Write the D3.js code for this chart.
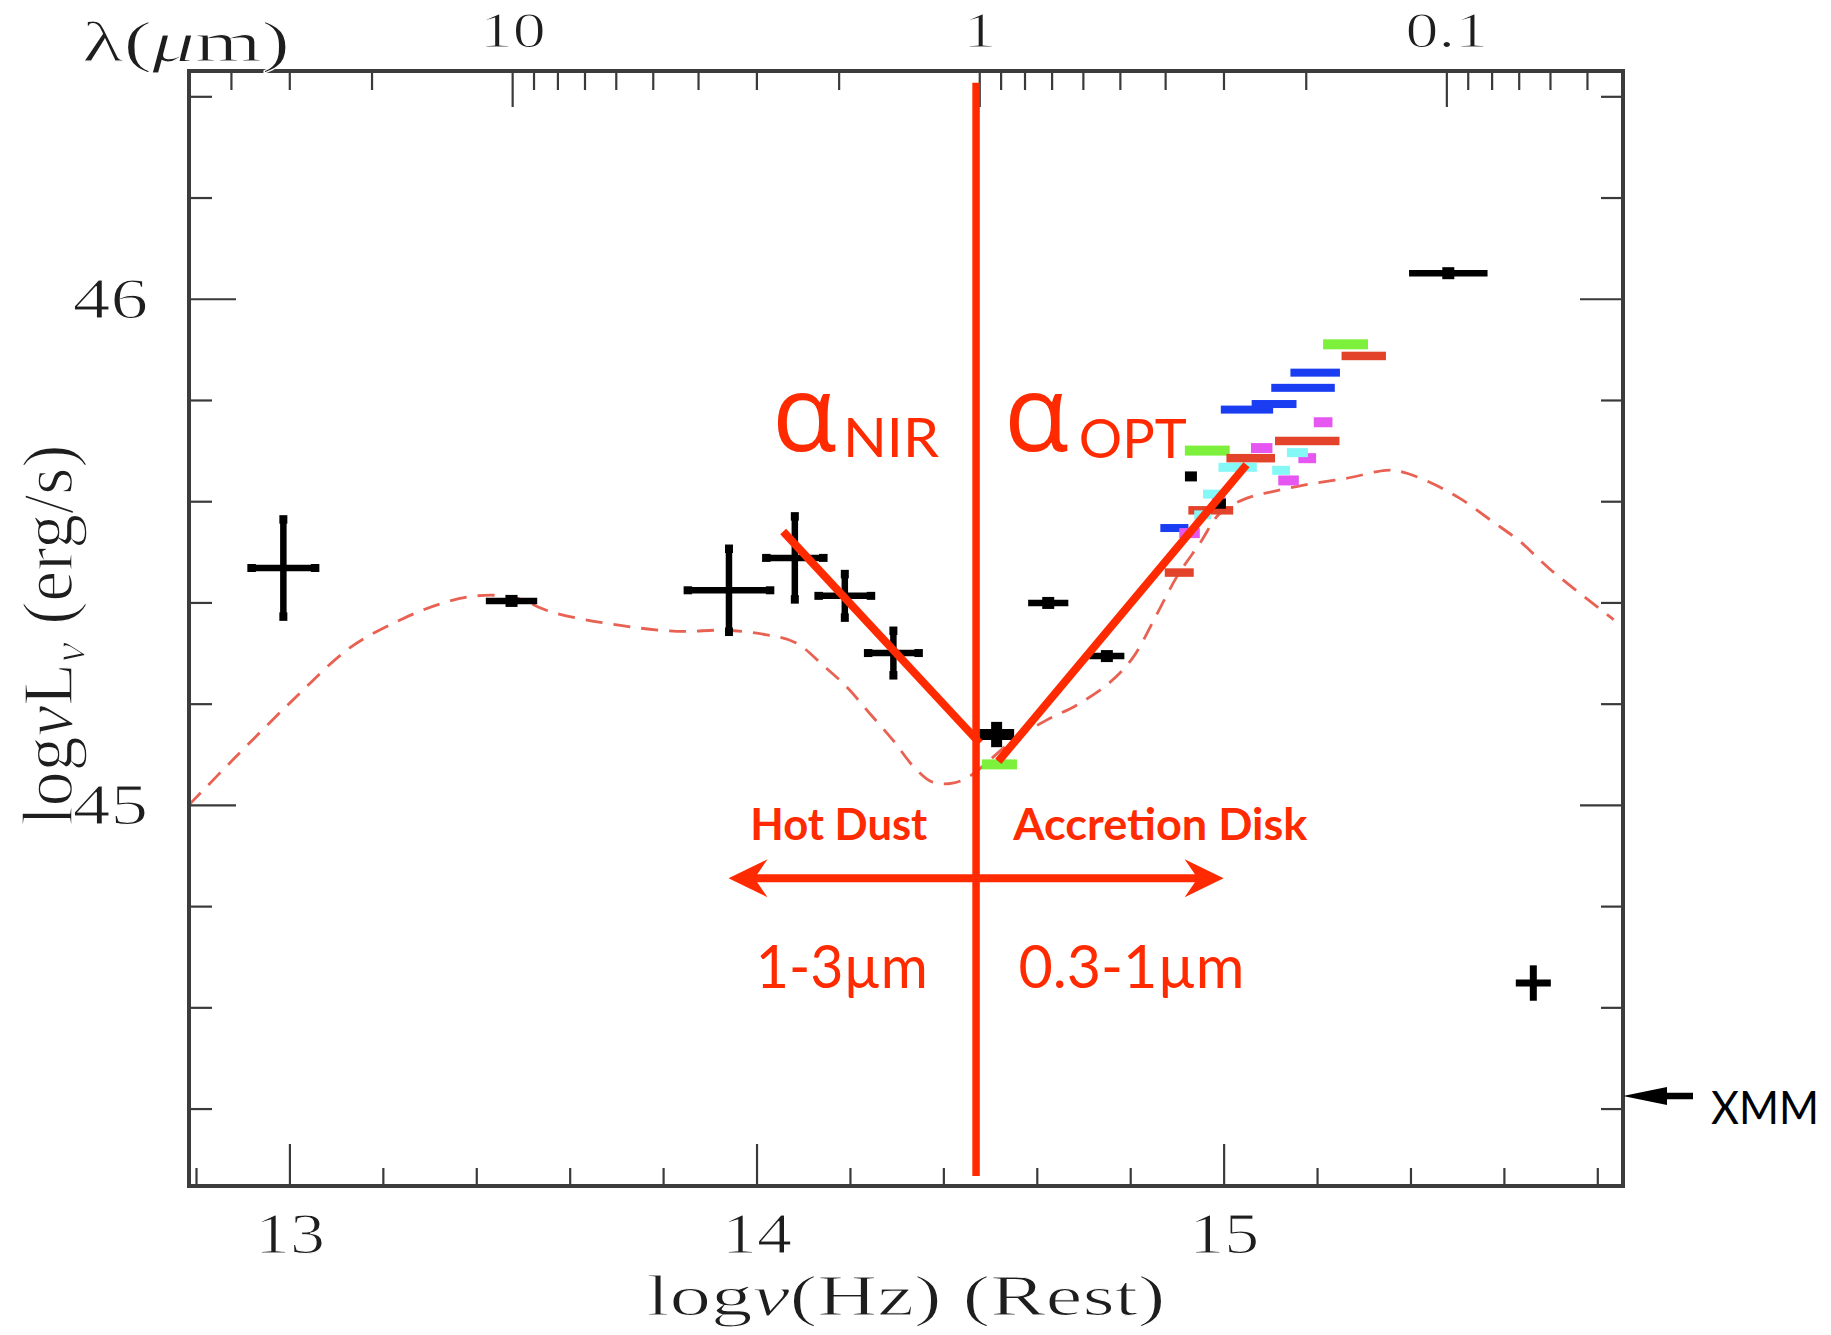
<!DOCTYPE html>
<html>
<head>
<meta charset="utf-8">
<script src="https://cdn.jsdelivr.net/npm/d3@7"></script>
<style>
  html, body { margin: 0; padding: 0; background: #ffffff; }
  svg { display: block; }
</style>
</head>
<body>
<svg id="sed" width="1831" height="1335"></svg>
<script>
// ---------------------------------------------------------------
// Rest-frame spectral energy distribution of a quasar
// x: log nu (Hz), y: log nu L_nu (erg/s)
// ---------------------------------------------------------------

const nuDomain  = [12.785, 15.855];
const lumDomain = [44.247, 46.45];

// axis ticks
const nuTicksMajor  = [13, 14, 15];
const nuTicksMinor  = [12.8, 13.2, 13.4, 13.6, 13.8, 14.2, 14.4, 14.6, 14.8, 15.2, 15.4, 15.6, 15.8];
const lumTicksMajor = [45, 46];
const lumTicksMinor = [44.4, 44.6, 44.8, 45.2, 45.4, 45.6, 45.8, 46.2, 46.4];
const lambdaTicksMajor = [10, 1, 0.1];
const lambdaLabels     = ["10", "1", "0.1"];
const lambdaTicksMinor = [40, 30, 20, 9, 8, 7, 6, 5, 4, 3, 2,
                          0.9, 0.8, 0.7, 0.6, 0.5, 0.4, 0.3, 0.2,
                          0.09, 0.08, 0.07, 0.06, 0.05];

// mean quasar template (dashed): [log nu, log nuLnu]
const templateSED = [
  [12.785, 45.000], [12.880, 45.090], [13.005, 45.205], [13.129, 45.310],
  [13.236, 45.365], [13.322, 45.397], [13.400, 45.413], [13.480, 45.410],
  [13.565, 45.380], [13.705, 45.355], [13.830, 45.343], [13.935, 45.345],
  [14.022, 45.336], [14.085, 45.320], [14.142, 45.276], [14.192, 45.234],
  [14.242, 45.181], [14.292, 45.128], [14.335, 45.077], [14.377, 45.045],
  [14.420, 45.043], [14.457, 45.057], [14.550, 45.128], [14.620, 45.167],
  [14.685, 45.197], [14.755, 45.241], [14.805, 45.290], [14.855, 45.373],
  [14.900, 45.451], [14.950, 45.518], [14.992, 45.576], [15.050, 45.606],
  [15.105, 45.619], [15.177, 45.633], [15.262, 45.645], [15.347, 45.661],
  [15.377, 45.659], [15.435, 45.640], [15.505, 45.606], [15.577, 45.559],
  [15.635, 45.520], [15.697, 45.467], [15.835, 45.366]
];

// photometry with errors in both axes: [log nu, dlog nu, log nuLnu, dlog nuLnu]
const irPhotometry = [
  [12.987, 0.068, 45.468, 0.096],
  [13.941, 0.088, 45.424, 0.082],
  [14.082, 0.061, 45.488, 0.082],
  [14.189, 0.056, 45.413, 0.043],
  [14.293, 0.054, 45.300, 0.044]
];
const nearIRPoint = [[14.514, 0.0375, 45.139, 0.025]];
const xrayPoint   = [[15.663, 0.0375, 44.648, 0.035]];

// photometry with frequency width only: [log nu, dlog nu, log nuLnu]
const bandPoints = [
  [13.4755, 0.055, 45.403],
  [14.6245, 0.043, 45.399],
  [14.750, 0.0375, 45.294],
  [15.481, 0.084, 46.0505]
];
const blackDots = [[14.930, 45.649], [14.992, 45.595]];

// multi-epoch optical/UV photometry: [log nu, dlog nu, log nuLnu]
const greenEpoch = [
  [15.261, 0.048, 45.910], [14.965, 0.048, 45.700], [14.520, 0.0375, 45.080]
];
const redEpoch = [
  [15.300, 0.0475, 45.887], [15.179, 0.069, 45.719], [15.058, 0.052, 45.685],
  [14.9725, 0.048, 45.582], [14.905, 0.031, 45.459]
];
const blueEpoch = [
  [15.196, 0.053, 45.854], [15.170, 0.068, 45.824], [15.108, 0.048, 45.792],
  [15.050, 0.056, 45.781], [14.8945, 0.030, 45.547]
];
const magentaEpoch = [
  [15.213, 0.020, 45.756], [15.0815, 0.023, 45.705], [15.179, 0.019, 45.685],
  [15.139, 0.022, 45.641], [14.990, 0.015, 45.598], [14.927, 0.022, 45.537]
];
const cyanEpoch = [
  [15.158, 0.0225, 45.696], [15.030, 0.041, 45.667], [15.123, 0.019, 45.661],
  [14.976, 0.020, 45.614], [14.955, 0.018, 45.573]
];

// spectral-slope fits and region markers
const alphaNIR = [[14.057, 45.540], [14.478, 45.122]];
const alphaOPT = [[14.5175, 45.086], [15.049, 45.672]];
const dividerNu = 14.47;
const dividerSpan = [44.267, 46.427];
const rangeArrow = { from: 13.94, to: 15.0, lum: 44.855 };
const xmmLimit = 44.425;

// ---------------------------------------------------------------
const C_MICRON = 2.99792458e14;              // speed of light in micron/s
const lamToNu = l => Math.log10(C_MICRON / l);

const RED = "#ff2a00";
const INK = "#1e1e1e";
const SERIF = "'Liberation Serif', 'DejaVu Serif', serif";
const SANS = "Lato, 'Open Sans', 'Liberation Sans', sans-serif";

const svg = d3.select("#sed");
const plotLeft = 189, plotRight = 1623, plotTop = 71, plotBottom = 1186;
const x = d3.scaleLinear().domain(nuDomain).range([plotLeft, plotRight]);
const y = d3.scaleLinear().domain(lumDomain).range([plotBottom, plotTop]);

// stretch serif labels horizontally
function widen(sel, k) {
  sel.each(function () {
    const w = this.getComputedTextLength();
    d3.select(this).attr("textLength", w * k).attr("lengthAdjust", "spacingAndGlyphs");
  });
}
// thin serif strokes slightly with a white outline painted over the fill
function thin(sel) {
  sel.attr("stroke", "#fff").attr("stroke-width", 1.1).attr("paint-order", "fill");
}

// ---------- template curve ----------
svg.append("path")
  .datum(templateSED)
  .attr("d", d3.line().x(d => x(d[0])).y(d => y(d[1])).curve(d3.curveCatmullRom.alpha(0.5)))
  .attr("fill", "none")
  .attr("stroke", "#e6503f")
  .attr("stroke-width", 2.8)
  .attr("stroke-dasharray", "17 11")
  .attr("opacity", 0.9);

// ---------- axes ----------
function drawAxis(axis, transform) {
  const g = svg.append("g").attr("transform", transform).call(axis);
  g.select(".domain").remove();
  g.selectAll(".tick line").attr("stroke", "#3a3a3a").attr("stroke-width", 2.2);
  return g;
}

const gBottom = drawAxis(d3.axisBottom(x).tickValues(nuTicksMajor).tickSize(-42).tickPadding(27)
  .tickFormat(d3.format("d")), `translate(0,${plotBottom})`);
drawAxis(d3.axisBottom(x).tickValues(nuTicksMinor).tickSize(-18).tickFormat(""), `translate(0,${plotBottom})`);

const gTop = drawAxis(d3.axisTop(x).tickValues(lambdaTicksMajor.map(lamToNu)).tickSize(-36).tickPadding(24)
  .tickFormat((d, i) => lambdaLabels[i]), `translate(0,${plotTop})`);
drawAxis(d3.axisTop(x).tickValues(lambdaTicksMinor.map(lamToNu).filter(v => v > nuDomain[0] && v < nuDomain[1]))
  .tickSize(-19).tickFormat(""), `translate(0,${plotTop})`);

const gLeft = drawAxis(d3.axisLeft(y).tickValues(lumTicksMajor).tickSize(-47).tickPadding(41)
  .tickFormat(d3.format("d")), `translate(${plotLeft},0)`);
drawAxis(d3.axisLeft(y).tickValues(lumTicksMinor).tickSize(-23).tickFormat(""), `translate(${plotLeft},0)`);

drawAxis(d3.axisRight(y).tickValues(lumTicksMajor).tickSize(-43).tickFormat(""), `translate(${plotRight},0)`);
drawAxis(d3.axisRight(y).tickValues(lumTicksMinor).tickSize(-22).tickFormat(""), `translate(${plotRight},0)`);

[gBottom, gTop, gLeft].forEach(g => g.attr("font-family", null).attr("font-size", null));
gBottom.selectAll("text").attr("font-family", SERIF).attr("font-size", 56).attr("fill", INK).call(widen, 1.25).call(thin);
gTop.selectAll("text").attr("font-family", SERIF).attr("font-size", 50).attr("fill", INK).call(widen, 1.32).call(thin);
gLeft.selectAll("text").attr("font-family", SERIF).attr("font-size", 57).attr("fill", INK).call(widen, 1.32).call(thin);

// frame
svg.append("rect")
  .attr("x", plotLeft).attr("y", plotTop)
  .attr("width", plotRight - plotLeft).attr("height", plotBottom - plotTop)
  .attr("fill", "none").attr("stroke", "#3c3c3c").attr("stroke-width", 4);

// axis titles
const lamTitle = svg.append("text")
  .attr("x", 82).attr("y", 61)
  .attr("font-family", SERIF).attr("font-size", 58).attr("fill", INK);
lamTitle.append("tspan").text("λ(");
lamTitle.append("tspan").attr("font-style", "italic").text("μ");
lamTitle.append("tspan").text("m)");
lamTitle.attr("textLength", 208).attr("lengthAdjust", "spacingAndGlyphs").call(thin);

const nuTitle = svg.append("text")
  .attr("x", 906).attr("y", 1315).attr("text-anchor", "middle")
  .attr("font-family", SERIF).attr("font-size", 58).attr("fill", INK);
nuTitle.append("tspan").text("log");
nuTitle.append("tspan").attr("font-style", "italic").text("ν");
nuTitle.append("tspan").text("(Hz)  (Rest)");
nuTitle.attr("textLength", 519).attr("lengthAdjust", "spacingAndGlyphs").call(thin);

const lumTitle = svg.append("text")
  .attr("transform", "translate(72,635) rotate(-90) scale(1,1.3)")
  .attr("text-anchor", "middle")
  .attr("font-family", SERIF).attr("font-size", 56).attr("fill", INK);
lumTitle.append("tspan").text("log");
lumTitle.append("tspan").attr("font-style", "italic").text("ν");
lumTitle.append("tspan").text("L");
lumTitle.append("tspan").attr("font-style", "italic").attr("font-size", 38).attr("dy", 10).text("ν");
lumTitle.append("tspan").attr("dy", -10).text(" (erg/s)");
lumTitle.attr("textLength", 381).attr("lengthAdjust", "spacingAndGlyphs").call(thin);

// ---------- data marks ----------
const marks = svg.append("g");

function crosses(data, width, cap) {
  const g = marks.append("g").attr("stroke", "#000").attr("stroke-linecap", "butt");
  const c = g.selectAll("g").data(data).join("g");
  c.append("line")
    .attr("x1", d => x(d[0] - d[1])).attr("x2", d => x(d[0] + d[1]))
    .attr("y1", d => y(d[2])).attr("y2", d => y(d[2]))
    .attr("stroke-width", width);
  c.append("line")
    .attr("x1", d => x(d[0])).attr("x2", d => x(d[0]))
    .attr("y1", d => y(d[2] - d[3])).attr("y2", d => y(d[2] + d[3]))
    .attr("stroke-width", width);
  if (cap > 0) {
    c.selectAll("line.cap")
      .data(d => [
        { cx: x(d[0] - d[1]), cy: y(d[2]), v: true },
        { cx: x(d[0] + d[1]), cy: y(d[2]), v: true },
        { cx: x(d[0]), cy: y(d[2] - d[3]), v: false },
        { cx: x(d[0]), cy: y(d[2] + d[3]), v: false }
      ]).join("line").attr("class", "cap")
      .attr("x1", e => e.v ? e.cx : e.cx - cap / 2).attr("x2", e => e.v ? e.cx : e.cx + cap / 2)
      .attr("y1", e => e.v ? e.cy - cap / 2 : e.cy).attr("y2", e => e.v ? e.cy + cap / 2 : e.cy)
      .attr("stroke-width", width + 2);
  }
}
crosses(irPhotometry, 6.5, 8);
crosses(nearIRPoint, 11, 0);
crosses(xrayPoint, 7, 0);

// horizontal bars with centre dots
const bp = marks.append("g").selectAll("g").data(bandPoints).join("g");
bp.append("line")
  .attr("x1", d => x(d[0] - d[1])).attr("x2", d => x(d[0] + d[1]))
  .attr("y1", d => y(d[2])).attr("y2", d => y(d[2]))
  .attr("stroke", "#000").attr("stroke-width", 6.5);
bp.append("rect")
  .attr("x", d => x(d[0]) - 6).attr("y", d => y(d[2]) - 6)
  .attr("width", 12).attr("height", 12).attr("fill", "#000");

// epoch photometry
const epochs = [
  { pts: greenEpoch,   color: "#7cf03a", h: 10 },
  { pts: redEpoch,     color: "#e2432a", h: 8.5 },
  { pts: blueEpoch,    color: "#1b3df2", h: 8 },
  { pts: magentaEpoch, color: "#e657f2", h: 10 },
  { pts: cyanEpoch,    color: "#84f7f7", h: 9 }
];
epochs.forEach(ep => {
  marks.append("g").selectAll("rect").data(ep.pts).join("rect")
    .attr("x", d => x(d[0] - d[1])).attr("width", d => x(d[0] + d[1]) - x(d[0] - d[1]))
    .attr("y", d => y(d[2]) - ep.h / 2).attr("height", ep.h)
    .attr("fill", ep.color);
});

marks.append("g").selectAll("rect").data(blackDots).join("rect")
  .attr("x", d => x(d[0]) - 6).attr("y", d => y(d[1]) - 5)
  .attr("width", 12).attr("height", 10).attr("fill", "#000");

// ---------- slopes, divider and region labels ----------
const ann = svg.append("g");
const seg = d3.line().x(d => x(d[0])).y(d => y(d[1]));

ann.append("line")
  .attr("x1", x(dividerNu)).attr("x2", x(dividerNu))
  .attr("y1", y(dividerSpan[1])).attr("y2", y(dividerSpan[0]))
  .attr("stroke", RED).attr("stroke-width", 7.5);

[alphaNIR, alphaOPT].forEach(s => {
  ann.append("path").attr("d", seg(s))
    .attr("stroke", RED).attr("stroke-width", 8).attr("fill", "none");
});

// double-headed arrow across the divider
const ay = y(rangeArrow.lum);
const ax0 = x(rangeArrow.from), ax1 = x(rangeArrow.to);
ann.append("line")
  .attr("x1", ax0 + 20).attr("x2", ax1 - 20).attr("y1", ay).attr("y2", ay)
  .attr("stroke", RED).attr("stroke-width", 8);
function headPath(tipX, tipY, dir, len, half, notch) {
  return `M${tipX},${tipY} L${tipX + dir * len},${tipY - half} L${tipX + dir * notch},${tipY} L${tipX + dir * len},${tipY + half} Z`;
}
ann.append("path").attr("d", headPath(ax0, ay, 1, 39, 19, 26)).attr("fill", RED);
ann.append("path").attr("d", headPath(ax1, ay, -1, 39, 19, 26)).attr("fill", RED);

// labels
const labels = [
  { t: "α",   nu: 14.0333, lum: 45.6992, size: 106, fam: "'Open Sans', 'Noto Sans', sans-serif", w: null },
  { t: "NIR", nu: 14.1850, lum: 45.6873, size: 54,  fam: SANS, w: 96 },
  { t: "α",   nu: 14.5300, lum: 45.6992, size: 106, fam: "'Open Sans', 'Noto Sans', sans-serif", w: null },
  { t: "OPT", nu: 14.6900, lum: 45.6853, size: 54,  fam: SANS, w: 108 }
];
labels.forEach(l => {
  const t = ann.append("text")
    .attr("x", x(l.nu)).attr("y", y(l.lum))
    .attr("font-family", l.fam).attr("font-size", l.size).attr("fill", RED).text(l.t);
  if (l.w) t.attr("textLength", l.w).attr("lengthAdjust", "spacingAndGlyphs");
});

const centred = [
  { t: "Hot Dust",       nu: 14.1762, lum: 44.9306, size: 44, bold: true,  w: 177 },
  { t: "Accretion Disk", nu: 14.8645, lum: 44.9306, size: 44, bold: true,  w: 294 },
  { t: "1-3µm",          nu: 14.1826, lum: 44.6382, size: 60, bold: false, w: 172 },
  { t: "0.3-1µm",        nu: 14.8028, lum: 44.6382, size: 60, bold: false, w: 226 }
];
centred.forEach(l => {
  ann.append("text")
    .attr("x", x(l.nu)).attr("y", y(l.lum)).attr("text-anchor", "middle")
    .attr("font-family", SANS).attr("font-size", l.size)
    .attr("font-weight", l.bold ? 700 : 400)
    .attr("fill", RED)
    .attr("textLength", l.w).attr("lengthAdjust", "spacingAndGlyphs")
    .text(l.t);
});

// XMM upper limit, outside the right axis
const xy = y(xmmLimit);
svg.append("line")
  .attr("x1", plotRight + 30).attr("x2", plotRight + 70).attr("y1", xy).attr("y2", xy)
  .attr("stroke", "#000").attr("stroke-width", 6.5);
svg.append("path")
  .attr("d", `M${plotRight},${xy} L${plotRight + 44},${xy - 9} L${plotRight + 44},${xy + 9} Z`)
  .attr("fill", "#000");
svg.append("text")
  .attr("x", plotRight + 88).attr("y", xy + 28)
  .attr("font-family", SANS).attr("font-size", 46).attr("fill", "#000")
  .attr("textLength", 108).attr("lengthAdjust", "spacingAndGlyphs")
  .text("XMM");
</script>
</body>
</html>
